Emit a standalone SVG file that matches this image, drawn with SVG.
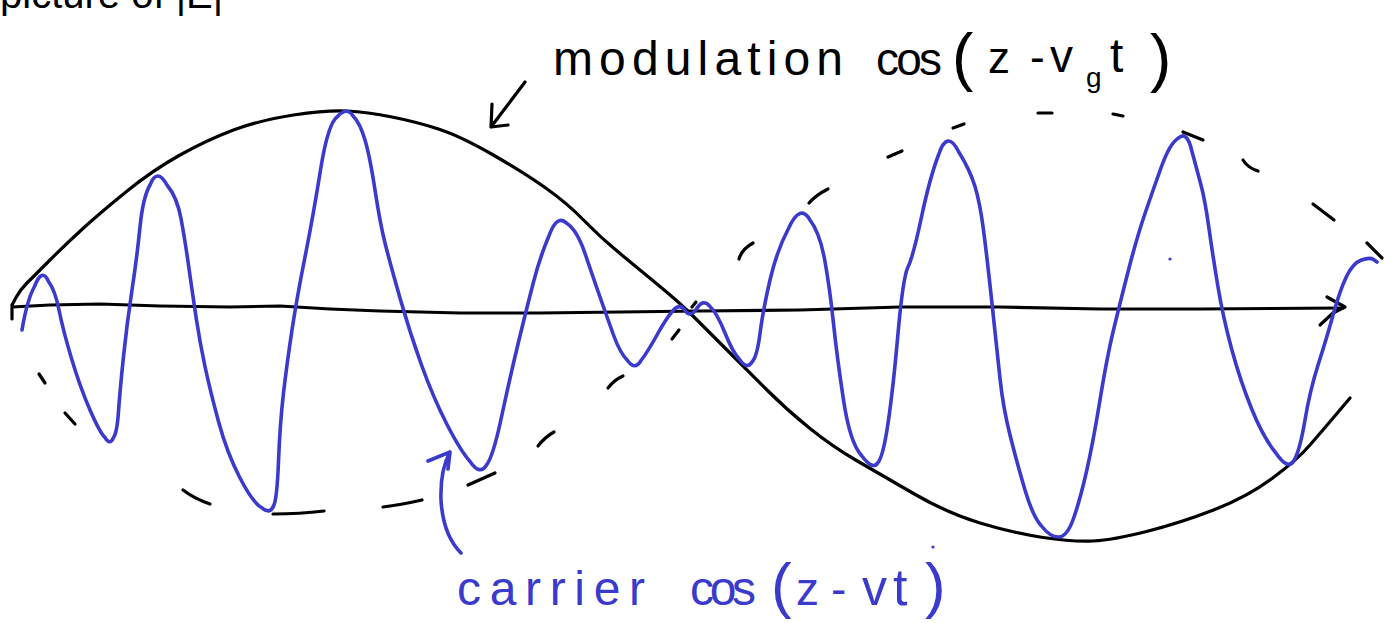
<svg xmlns="http://www.w3.org/2000/svg" width="1394" height="623" viewBox="0 0 1394 623">
<style>
.k{fill:none;stroke:#000;stroke-width:3.2;stroke-linecap:round;stroke-linejoin:round}
.b{fill:none;stroke:#3a3acc;stroke-width:3.6;stroke-linecap:round;stroke-linejoin:round}
.tk{font-family:"Liberation Sans",Arial,sans-serif;fill:#000}
.tb{font-family:"Liberation Sans",Arial,sans-serif;fill:#3a3acc}
</style>
<rect width="1394" height="623" fill="#fff"/>
<text class="tk" x="0" y="8" font-size="40">picture of |E|²</text>
<g id="axis">
<path class="k" d="M12,319 L12,307 L50,305 L100,304 L160,306 L230,307 L280,306 L330,309 L380,311 L460,313 L540,313 L620,312 L700,311 L800,310 L900,307 L1000,307 L1100,309 L1200,309 L1343,308"/>
<path class="k" d="M1327,297 L1345,307 L1333,313 L1320,325"/>
</g>
<g id="modulation">
<path class="k" d="M12,305 L16,297.5 Q20,290 26.5,283.5 Q33,277 50,260 Q67,243 83.5,228 Q100,213 126.5,191.5 Q153,170 180,155 Q207,140 233.5,130 Q260,120 293.5,115 Q327,110 347,111 Q367,112 392,117 Q417,122 438.5,129 Q460,136 491.5,154 Q523,172 545,187.5 Q567,203 583.5,220 Q600,237 620,253.5 Q640,270 660,286.5 Q680,303 693.5,316.5 Q707,330 727,350 Q747,370 767,390 Q787,410 810,428.5 Q833,447 856.5,460.5 Q880,474 913.5,493.5 Q947,513 980,523 Q1013,533 1043,537.5 Q1073,542 1093,541 Q1113,540 1146.5,531.5 Q1180,523 1213.5,510 Q1247,497 1272,478.5 Q1297,460 1310,445 Q1323,430 1336.5,414 L1350,398"/>
</g>
<g id="envelope-dashes">
<path class="k" d="M39,374 L45,383"/>
<path class="k" d="M65,413 L75,424"/>
<path class="k" d="M183,490 Q195,499 210,504"/>
<path class="k" d="M273,514 Q300,514 324,511"/>
<path class="k" d="M383,507 Q400,505 422,500"/>
<path class="k" d="M468,485 L495,473"/>
<path class="k" d="M538,446 Q545,437 554,432"/>
<path class="k" d="M608,388 Q614,380 623,376"/>
<path class="k" d="M672,339 L679,330"/>
<path class="k" d="M692,307 L696,302"/>
<path class="k" d="M739,259 Q742,249 753,243"/>
<path class="k" d="M809,203 Q816,195 828,189"/>
<path class="k" d="M888,157 L902,151"/>
<path class="k" d="M953,128 L964,124"/>
<path class="k" d="M1038,113 L1052,113"/>
<path class="k" d="M1113,114 L1123,116"/>
<path class="k" d="M1183,132 L1203,140"/>
<path class="k" d="M1243,160 Q1248,168 1258,171"/>
<path class="k" d="M1313,204 L1334,220"/>
<path class="k" d="M1367,243 L1382,258"/>
</g>
<g id="carrier">
<path class="b" d="M22,330 Q27,300 34.5,286.5 Q42,267 48.5,281.5 Q55,290 59,310 Q63,330 71.5,358.5 Q80,387 90,410 Q100,433 105,437.5 Q110,446 113.5,437.5 Q117,433 118.5,411.5 Q120,390 123.5,356.5 Q127,323 132,290 Q137,257 140,227 Q143,197 150,185 Q157,167 167,185 Q177,197 181,218.5 Q185,240 189,268.5 Q193,297 196.5,320 Q200,343 205,366.5 Q210,390 218.5,421.5 Q227,453 240,478 Q253,503 261.5,507.5 Q270,515 273.5,506 Q277,500 278.5,461.5 Q280,423 283.5,393 Q287,363 292,330 Q297,297 305,257 Q313,217 320.5,170 Q328,123 337.5,116.5 Q347,106 353.5,116.5 Q360,123 365,140 Q370,157 375,190 Q380,223 385,243 Q390,263 400,298 Q410,333 421.5,365 Q433,397 446.5,423.5 Q460,450 470,461.5 Q480,476 486.5,465 Q493,457 501.5,417 Q510,377 518.5,342 Q527,307 533.5,282 Q540,257 548.5,237 Q557,213 567,223.5 Q577,230 585,253.5 Q593,277 600,297 Q607,317 613.5,335 Q620,353 627.5,360.5 Q635,371 641,360.5 Q647,353 657,335 Q667,317 673.5,310 Q680,303 685,310.5 Q690,318 696.5,309 Q703,298 710,306.5 Q717,313 725,333 Q733,353 740,360 Q747,370 752,362 Q757,357 760,333.5 Q763,310 770,280 Q777,250 788.5,228.5 Q800,203 810,220 Q820,233 825,261.5 Q830,290 833.5,323.5 Q837,357 843.5,400 Q850,443 861.5,455.5 Q873,471 878,462.5 Q883,457 888,423.5 Q893,390 898,333.5 Q903,277 908,267 Q913,257 921.5,217 Q930,177 938.5,155 Q947,129 958.5,151.5 Q970,170 975,186.5 Q980,203 983.5,230 Q987,257 992,303.5 Q997,350 1000,378.5 Q1003,407 1010,435 Q1017,463 1025,490 Q1033,517 1041.5,526 Q1050,537 1058.5,537 Q1067,537 1073.5,518.5 Q1080,500 1086.5,471.5 Q1093,443 1100,400 Q1107,357 1113.5,330 Q1120,303 1128.5,270 Q1137,237 1145,213.5 Q1153,190 1161.5,166.5 Q1170,143 1178.5,138 Q1187,130 1192,151.5 Q1197,170 1201,185 Q1205,200 1209,228.5 Q1213,257 1218,287 Q1223,317 1231.5,348.5 Q1240,380 1251.5,408.5 Q1263,437 1275.5,452.5 Q1288,471 1294,460.5 Q1300,450 1305,420 Q1310,390 1318.5,363.5 Q1327,337 1333.5,313.5 Q1340,290 1346.5,276.5 Q1353,263 1361.5,260 Q1370,257 1373.5,259.5 L1377,262"/>
<circle cx="1170" cy="259" r="1.6" fill="#3a3acc"/>
<circle cx="933" cy="547" r="1.6" fill="#3a3acc"/>
</g>
<g id="connectors">
<path class="k" d="M525,82 L491,127 M492,104 L491,127 L508,125"/>
<path class="b" d="M461,553 Q443,535 441,500 Q440,470 450,452 M428,461 L450,452 L448,469"/>
</g>
<g id="label-modulation">
<text class="tk" x="553" y="75" font-size="48" textLength="290" lengthAdjust="spacing">modulation</text>
<text class="tk" x="876" y="75" font-size="46" textLength="66" lengthAdjust="spacing">cos</text>
<text class="tk" x="952" y="79" font-size="64">(</text>
<text class="tk" x="988" y="73" font-size="44">z</text>
<text class="tk" x="1030" y="72" font-size="44">-</text>
<text class="tk" x="1050" y="72" font-size="46">v</text>
<text class="tk" x="1086" y="87" font-size="28">g</text>
<text class="tk" x="1110" y="72" font-size="48">t</text>
<text class="tk" x="1150" y="80" font-size="64">)</text>
</g>
<g id="label-carrier">
<text class="tb" x="457" y="605" font-size="48" textLength="188" lengthAdjust="spacing">carrier</text>
<text class="tb" x="690" y="605" font-size="48" textLength="66" lengthAdjust="spacing">cos</text>
<text class="tb" x="771" y="606" font-size="62">(</text>
<text class="tb" x="796" y="605" font-size="46">z</text>
<text class="tb" x="831" y="605" font-size="46">-</text>
<text class="tb" x="862" y="605" font-size="50">v</text>
<text class="tb" x="893" y="605" font-size="52">t</text>
<text class="tb" x="925" y="606" font-size="62">)</text>
</g>
</svg>
